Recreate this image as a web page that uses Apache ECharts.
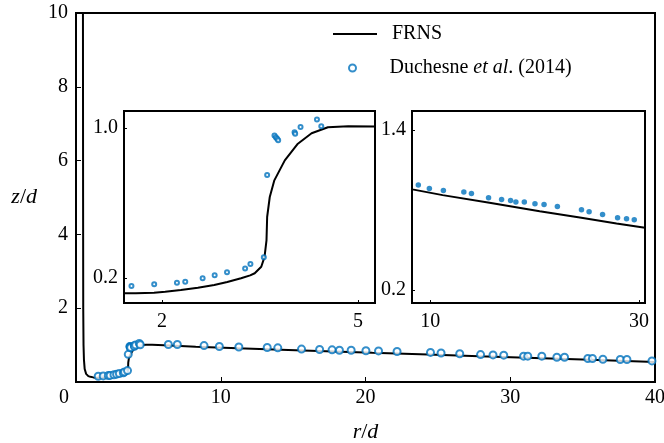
<!DOCTYPE html>
<html>
<head>
<meta charset="utf-8">
<script src="https://cdn.jsdelivr.net/npm/echarts@6/dist/echarts.min.js"></script>
<style>
  html, body { margin: 0; padding: 0; background: #fff; }
  #chart { width: 664px; height: 443px; }
</style>
</head>
<body>
<div id="chart"></div>
<script>
// FRNS simulation: free-surface height z/d against radius r/d
const frnsR = [0.48, 0.49, 0.50, 0.52, 0.55, 0.60, 0.70, 0.85, 1.00, 1.20, 1.42, 1.60, 1.88, 2.05, 2.29, 2.55, 2.80, 3.00, 3.21, 3.35, 3.42, 3.52, 3.57, 3.60, 3.61, 3.65, 3.72, 3.88, 4.08, 4.29, 4.54, 4.85, 5.26, 6.50, 8.27, 11.18, 15.67, 20.48, 24.33, 27.85, 30.58, 35.00, 40.00];
const frnsZ = [10.0, 5.0, 2.0, 1.0, 0.60, 0.35, 0.22, 0.16, 0.14, 0.125, 0.117, 0.117, 0.120, 0.125, 0.134, 0.147, 0.161, 0.177, 0.197, 0.213, 0.224, 0.259, 0.312, 0.400, 0.525, 0.632, 0.721, 0.828, 0.917, 0.973, 1.005, 1.011, 1.009, 0.990, 0.955, 0.912, 0.855, 0.792, 0.745, 0.700, 0.667, 0.610, 0.545];

// Duchesne et al. (2014) measurements
const expR = [1.534, 1.882, 2.230, 2.357, 2.623, 2.807, 2.996, 3.273, 3.354, 3.559, 3.610, 3.722, 3.743, 3.763, 3.779, 4.029, 4.039, 4.121, 4.372, 4.438, 6.38, 7.00, 8.846, 9.904, 11.25, 13.21, 13.94, 15.58, 16.83, 17.69, 18.20, 19.01, 20.03, 20.90, 22.18, 24.49, 25.22, 26.51, 27.95, 28.81, 29.55, 30.92, 31.21, 32.18, 33.22, 33.75, 35.36, 35.68, 36.40, 37.60, 38.06, 39.79];
const expZ = [0.156, 0.165, 0.173, 0.179, 0.197, 0.213, 0.230, 0.250, 0.273, 0.310, 0.750, 0.961, 0.952, 0.943, 0.936, 0.979, 0.970, 1.006, 1.046, 1.011, 1.016, 1.016, 0.987, 0.962, 0.947, 0.935, 0.925, 0.892, 0.880, 0.872, 0.860, 0.860, 0.847, 0.842, 0.827, 0.802, 0.787, 0.767, 0.742, 0.735, 0.727, 0.700, 0.700, 0.700, 0.672, 0.672, 0.637, 0.637, 0.618, 0.610, 0.610, 0.572];

// Tick values for the main axes and the two zoomed insets
const mainXTicks = [0, 10, 20, 30, 40];
const mainYTicks = [2, 4, 6, 8, 10];
const inset1XTicks = [2, 5];
const inset1YTicks = [0.2, 1.0];
const inset2XTicks = [10, 30];
const inset2YTicks = [0.2, 1.4];

const FONT = 'Liberation Serif';
const BLUE = '#0072BD';
const frnsData = frnsR.map((r, i) => [r, frnsZ[i]]);
const expData = expR.map((r, i) => [r, expZ[i]]);

const labelStyle = { fontFamily: FONT, fontSize: 20, color: '#000' };
const tickStyle = (len) => ({ show: true, inside: true, length: len, lineStyle: { color: '#000', width: 1 } });

function axis(gridIndex, min, max, ticks, margin, fmt, extra) {
  return Object.assign({
    type: 'value', gridIndex, min, max,
    axisLine: { show: false },
    splitLine: { show: false },
    axisTick: Object.assign(tickStyle(gridIndex === 0 ? 5 : 3), { customValues: ticks }),
    axisLabel: Object.assign({}, labelStyle, { margin, customValues: ticks, formatter: fmt })
  }, extra || {});
}

// Fixed plot rectangles: labels may sit outside them without resizing the plot
function panel(left, top, width, height, bg) {
  return { left, top, width, height, show: true, borderColor: '#000', borderWidth: 2,
    backgroundColor: bg, containLabel: false, outerBoundsMode: 'none' };
}

const chart = echarts.init(document.getElementById('chart'), null, { renderer: 'canvas' });

chart.setOption({
  animation: false,
  backgroundColor: '#fff',
  grid: [
    panel(76, 13, 579, 369, 'transparent'),
    panel(124, 111, 251, 192, '#fff'),
    panel(412, 111, 233, 192, '#fff')
  ],
  xAxis: [
    axis(0, 0, 40, mainXTicks, 6, v => v === 0 ? '{o|0}' : String(v), {
      interval: 10,
      axisLabel: Object.assign({}, labelStyle, {
        margin: 6, customValues: mainXTicks,
        formatter: v => v === 0 ? '{o|0}' : String(v),
        rich: { o: { fontFamily: FONT, fontSize: 20, color: '#000', padding: [0, 24, 0, 0] } }
      }),
      name: '{i|r}/{i|d}', nameLocation: 'middle', nameGap: 39,
      nameTextStyle: { fontFamily: FONT, fontSize: 22, color: '#000',
        rich: { i: { fontFamily: FONT, fontSize: 22, fontStyle: 'italic', color: '#000' } } }
    }),
    axis(1, 1.42, 5.26, inset1XTicks, 9, v => String(v)),
    axis(2, 8.24, 30.58, inset2XTicks, 9, v => String(v))
  ],
  yAxis: [
    axis(0, 0, 10, mainYTicks, 8, v => String(v), {
      interval: 2,
      name: '{i|z}/{i|d}', nameLocation: 'middle', nameGap: 39, nameRotate: 0,
      nameTextStyle: { fontFamily: FONT, fontSize: 22, color: '#000', align: 'right',
        rich: { i: { fontFamily: FONT, fontSize: 22, fontStyle: 'italic', color: '#000' } } }
    }),
    axis(1, 0.065, 1.092, inset1YTicks, 6, v => v.toFixed(1)),
    axis(2, 0.104, 1.542, inset2YTicks, 6, v => v.toFixed(1))
  ],
  legend: [
    {
      data: [{ name: 'FRNS', icon: 'rect' }], left: 333, top: 24, padding: 0, orient: 'vertical',
      itemWidth: 44, itemHeight: 2,
      textStyle: Object.assign({}, labelStyle, { padding: [0, 0, 0, 10] })
    },
    {
      data: ['Duchesne et al. (2014)'], left: 348, top: 58, padding: 0, orient: 'vertical',
      itemWidth: 44, itemHeight: 7,
      formatter: () => 'Duchesne {i|et al}. (2014)',
      textStyle: Object.assign({}, labelStyle, {
        padding: [0, 0, 0, 10],
        rich: { i: { fontFamily: FONT, fontSize: 20, fontStyle: 'italic', color: '#000' } }
      })
    }
  ],
  series: [
    { name: 'FRNS', type: 'line', xAxisIndex: 0, yAxisIndex: 0, data: frnsData, symbol: 'none', showSymbol: false,
      lineStyle: { color: '#000', width: 2 }, itemStyle: { color: '#000' }, z: 3 },
    { name: 'Duchesne et al. (2014)', type: 'scatter', xAxisIndex: 0, yAxisIndex: 0, data: expData,
      symbol: 'emptyCircle', symbolSize: 7, itemStyle: { color: BLUE, borderColor: BLUE, borderWidth: 3 }, z: 4 },
    { name: 'FRNS', type: 'line', xAxisIndex: 1, yAxisIndex: 1, data: frnsData, symbol: 'none', showSymbol: false,
      lineStyle: { color: '#000', width: 2 }, clip: true, z: 3 },
    { name: 'Duchesne et al. (2014)', type: 'scatter', xAxisIndex: 1, yAxisIndex: 1, data: expData,
      symbol: 'emptyCircle', symbolSize: 4, clip: true, itemStyle: { color: BLUE, borderColor: BLUE, borderWidth: 2 }, z: 4 },
    { name: 'FRNS', type: 'line', xAxisIndex: 2, yAxisIndex: 2, data: frnsData, symbol: 'none', showSymbol: false,
      lineStyle: { color: '#000', width: 2 }, clip: true, z: 3 },
    { name: 'Duchesne et al. (2014)', type: 'scatter', xAxisIndex: 2, yAxisIndex: 2, data: expData,
      symbol: 'circle', symbolSize: 5.5, clip: true, itemStyle: { color: BLUE }, z: 4 }
  ]
});
</script>
</body>
</html>
